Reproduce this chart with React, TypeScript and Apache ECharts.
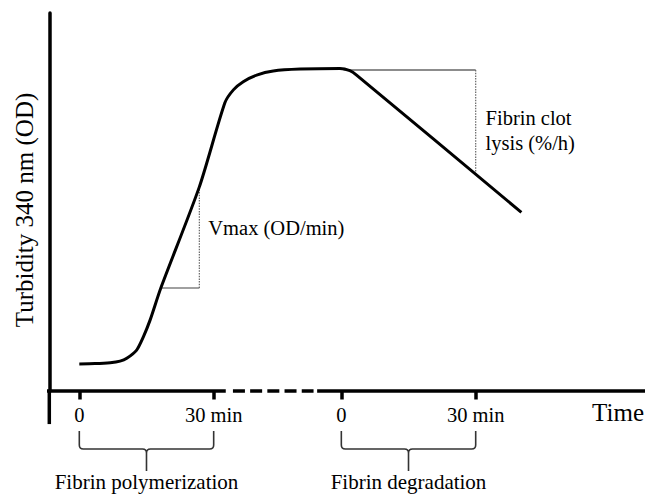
import { useEffect, useRef } from "react";
import * as echarts from "echarts";

const FONT = "'Liberation Serif', 'Times New Roman', serif";

// Time axis (continuous display scale, minutes). Degradation phase starts at 58.5
const tickValues = [0, 30, 58.5, 88.5];
const tickLabels = ["0", "30 min", "0", "30 min"];

// Turbidity curve
const curveTime = [0, 3.5, 6.9, 9.1, 10.6, 12.8, 14.3, 15.8, 18.2, 26.8, 32.5, 34.4, 36.6, 39.6, 43.3, 49.3, 58.2, 60.4, 61.9, 98.7];
const curveOD = [0.086, 0.087, 0.09, 0.095, 0.104, 0.13, 0.172, 0.225, 0.327, 0.648, 0.915, 0.956, 0.982, 1.003, 1.016, 1.022, 1.024, 1.017, 1.003, 0.567];

// Vmax triangle
const vmaxTime = [18.2, 26.8];
const vmaxOD = [0.327, 0.648];
const vmaxLabelPos = [28.8, 0.517];

// Lysis rate guide
const lysisTime = [59, 88.5];
const lysisOD = [1.019, 0.695];
const lysisLabelPos = [90.7, 0.827];

const annotationTexts = ["Vmax (OD/min)", "Fibrin clot\nlysis (%/h)"];

// Phases (brackets)
const phaseNames = ["Fibrin polymerization", "Fibrin degradation"];
const phaseStart = [0, 58.5];
const phaseEnd = [30, 88.5];

// Broken time axis line segments
const axisSolidA = [-13.2, 32.7];
const axisDashed = [34.3, 52.3];
const axisSolidB = [53.1, 126.3];
const yAxisBottomExt = -0.105;

const X_MIN = -6.7;
const X_MAX = 126.3;

export default function App() {
  const ref = useRef<HTMLDivElement>(null);
  useEffect(() => {
    document.body.style.margin = "0";
    if (!ref.current) return;
    const chart = echarts.init(ref.current, null, { renderer: "svg" });
    const curve = curveTime.map((t, i) => [t, curveOD[i]]);
    const black = "#000";
    const seg = (data: number[][], lineStyle: any, z = 2) => ({
      type: "line",
      data,
      symbol: "none",
      clip: false,
      silent: true,
      z,
      lineStyle,
    });
    const annPos = [vmaxLabelPos, lysisLabelPos];
    chart.setOption({
      animation: false,
      grid: { left: 49.3, right: 0, top: 13, bottom: 105, containLabel: false, outerBoundsMode: "none" },
      xAxis: {
        type: "value",
        min: X_MIN,
        max: X_MAX,
        axisLine: { show: false, onZero: false },
        splitLine: { show: false },
        axisTick: {
          show: true,
          customValues: tickValues,
          length: 8.5,
          lineStyle: { color: black, width: 3.5 },
        },
        axisLabel: {
          show: true,
          customValues: tickValues,
          formatter: (v: number) => {
            const i = tickValues.indexOf(v);
            return i >= 0 ? tickLabels[i] : "";
          },
          margin: 13,
          fontSize: 20.5,
          fontFamily: FONT,
          color: black,
        },
        name: "Time",
        nameLocation: "end",
        nameGap: -1,
        nameTextStyle: {
          fontSize: 25,
          fontFamily: FONT,
          color: black,
          align: "right",
          verticalAlign: "top",
          padding: [9, 0, 0, 0],
        },
      },
      yAxis: {
        type: "value",
        min: 0,
        max: 1.2,
        axisLine: { show: true, onZero: false, lineStyle: { color: black, width: 3.5 } },
        axisTick: { show: false },
        axisLabel: { show: false },
        splitLine: { show: false },
        name: "Turbidity 340 nm (OD)",
        nameLocation: "middle",
        nameRotate: 90,
        nameGap: 12,
        nameTextStyle: { fontSize: 25, fontFamily: FONT, color: black, padding: [0, 16, 0, 0] },
      },
      series: [
        // broken x-axis line
        seg([[axisSolidA[0], 0], [axisSolidA[1], 0]], { color: black, width: 3.5 }),
        seg([[axisDashed[0], 0], [axisDashed[1], 0]], { color: black, width: 3.5, type: [12, 5.2] }),
        seg([[axisSolidB[0], 0], [axisSolidB[1], 0]], { color: black, width: 3.5 }),
        // y-axis extension below the time axis
        seg([[X_MIN, 0], [X_MIN, yAxisBottomExt]], { color: black, width: 3.5 }),
        // Vmax triangle
        seg([[vmaxTime[0], vmaxOD[0]], [vmaxTime[1], vmaxOD[0]]], { color: "#808080", width: 1.5 }),
        seg([[vmaxTime[1], vmaxOD[0]], [vmaxTime[1], vmaxOD[1]]], { color: "#666", width: 1.2, type: [1.5, 1.2] }),
        // lysis guide
        seg([[lysisTime[0], lysisOD[0]], [lysisTime[1], lysisOD[0]]], { color: "#8c8c8c", width: 2 }),
        seg([[lysisTime[1], lysisOD[0]], [lysisTime[1], lysisOD[1]]], { color: "#666", width: 1.2, type: [1.5, 1.2] }),
        // turbidity curve
        {
          type: "line",
          data: curve,
          symbol: "none",
          smooth: 0.25,
          clip: false,
          silent: true,
          z: 5,
          lineStyle: { color: black, width: 3 },
        },
        // annotation labels
        {
          type: "custom",
          clip: false,
          silent: true,
          z: 6,
          encode: { x: 0, y: 1 },
          data: annPos.map((p, i) => [p[0], p[1], i]),
          renderItem: (_params: any, api: any) => {
            const p = api.coord([api.value(0), api.value(1)]);
            const idx = api.value(2);
            return {
              type: "text",
              x: p[0],
              y: p[1],
              style: {
                text: annotationTexts[idx],
                fill: black,
                fontSize: 20.5,
                lineHeight: 25,
                fontFamily: FONT,
                align: "left",
                verticalAlign: "middle",
              },
            };
          },
        },
        // phase brackets
        {
          type: "custom",
          clip: false,
          silent: true,
          encode: { x: [0, 1], y: 2 },
          data: phaseNames.map((_, i) => [phaseStart[i], phaseEnd[i], i]),
          renderItem: (_params: any, api: any) => {
            const p0 = api.coord([api.value(0), 0]);
            const p1 = api.coord([api.value(1), 0]);
            const x0 = p0[0];
            const x1 = p1[0];
            const y = p0[1];
            const xc = (x0 + x1) / 2;
            const idx = api.value(2);
            const d =
              `M${x0} ${y + 40} L${x0} ${y + 54} Q${x0} ${y + 58} ${x0 + 4} ${y + 58} L${xc - 4} ${y + 58} Q${xc} ${y + 58} ${xc} ${y + 62} L${xc} ${y + 80} ` +
              `M${x1} ${y + 40} L${x1} ${y + 54} Q${x1} ${y + 58} ${x1 - 4} ${y + 58} L${xc + 4} ${y + 58} Q${xc} ${y + 58} ${xc} ${y + 62}`;
            return {
              type: "group",
              children: [
                { type: "path", shape: { pathData: d }, style: { fill: "none", stroke: "#333", lineWidth: 1.6 } },
                {
                  type: "text",
                  x: xc,
                  y: y + 91,
                  style: {
                    text: phaseNames[idx],
                    fill: black,
                    fontSize: 21,
                    fontFamily: FONT,
                    align: "center",
                    verticalAlign: "middle",
                  },
                },
              ],
            };
          },
        },
      ],
    });
    return () => chart.dispose();
  }, []);
  return <div ref={ref} style={{ width: 645, height: 496 }} />;
}
